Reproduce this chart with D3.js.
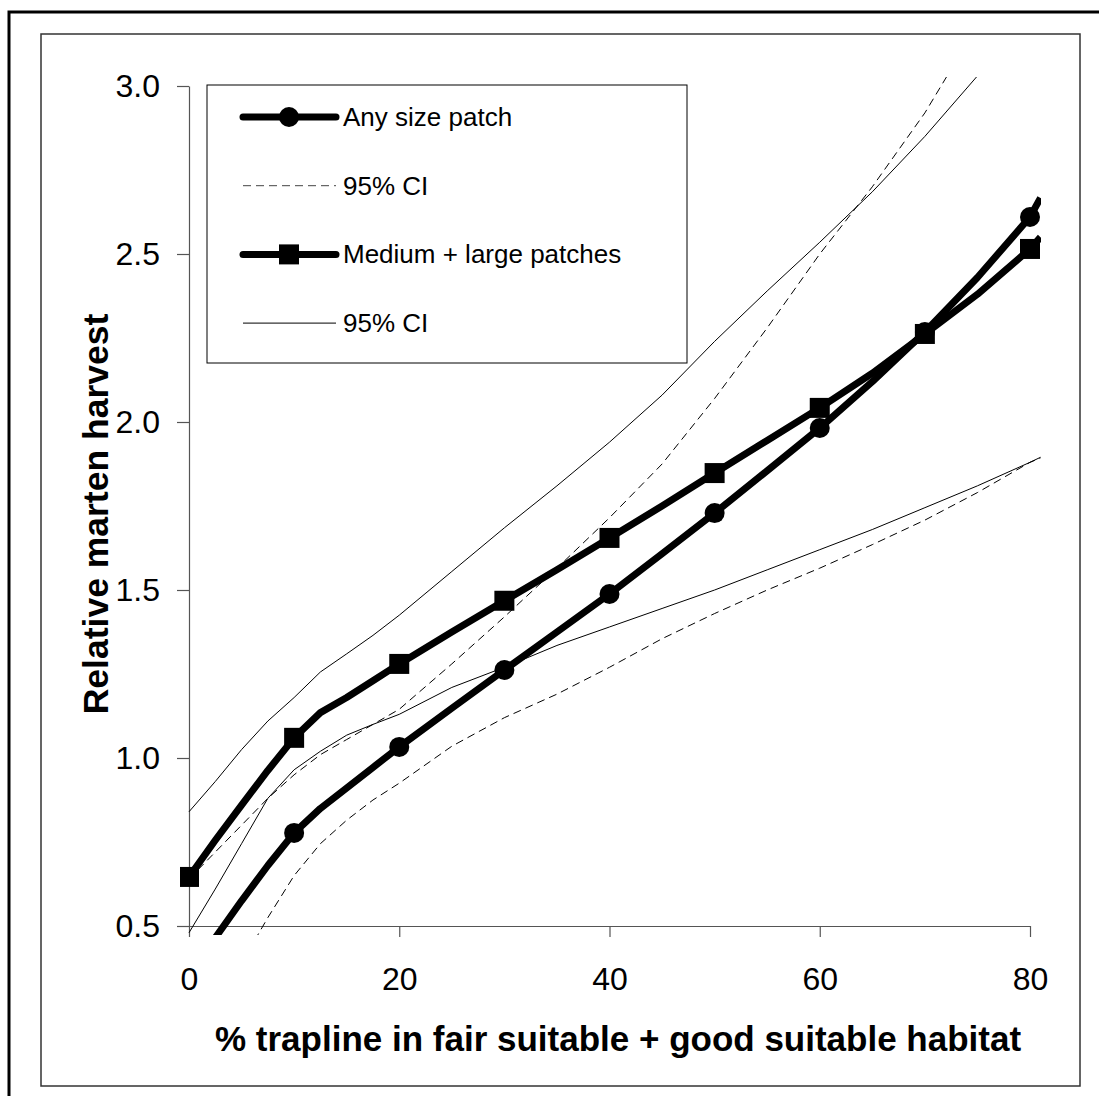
<!DOCTYPE html>
<html>
<head>
<meta charset="utf-8">
<script src="https://cdn.jsdelivr.net/npm/d3@7"></script>
<style>
  body { margin: 0; background: #fff; }
  svg { display: block; font-family: 'Liberation Sans', Arial, sans-serif; }
</style>
</head>
<body>
<div class="chart-container"></div>
<script>
// data: % trapline values shared by every series
const xValues = [0, 2.5, 5, 7.5, 10, 12.5, 15, 17.5, 20, 25, 30, 35, 40, 45, 50, 55, 60, 65, 70, 75, 80, 81];

// any size patch + its 95% CI (dashed)
const anySize  = [0.36, 0.465, 0.575, 0.68, 0.777, 0.85, 0.911, 0.972, 1.033, 1.148, 1.262, 1.375, 1.488, 1.608, 1.729, 1.855, 1.982, 2.12, 2.268, 2.43, 2.61, 2.667];
const anyUpper = [0.64, 0.72, 0.80, 0.88, 0.95, 1.01, 1.055, 1.10, 1.145, 1.28, 1.42, 1.565, 1.715, 1.875, 2.07, 2.28, 2.50, 2.70, 2.92, 3.18, 3.42, 3.47];
const anyLower = [null, null, 0.39, 0.525, 0.65, 0.745, 0.815, 0.875, 0.925, 1.035, 1.12, 1.19, 1.27, 1.355, 1.43, 1.50, 1.565, 1.635, 1.708, 1.79, 1.88, 1.893];

// medium + large patches + its 95% CI (solid)
const medLarge = [0.646, 0.755, 0.86, 0.963, 1.06, 1.135, 1.18, 1.23, 1.28, 1.375, 1.468, 1.56, 1.655, 1.75, 1.848, 1.945, 2.042, 2.145, 2.262, 2.38, 2.515, 2.55];
const mlUpper  = [0.84, 0.93, 1.025, 1.11, 1.18, 1.256, 1.31, 1.365, 1.425, 1.555, 1.685, 1.81, 1.94, 2.08, 2.24, 2.39, 2.535, 2.685, 2.85, 3.03, 3.2, 3.24];
const mlLower  = [0.48, 0.61, 0.745, 0.88, 0.965, 1.02, 1.068, 1.10, 1.13, 1.21, 1.27, 1.335, 1.39, 1.445, 1.50, 1.56, 1.62, 1.68, 1.745, 1.81, 1.88, 1.895];

const xTicks = [0, 20, 40, 60, 80];
const yTicks = [0.5, 1.0, 1.5, 2.0, 2.5, 3.0];
const legendLabels = ['Any size patch', '95% CI', 'Medium + large patches', '95% CI'];

const width = 1099;
const height = 1096;

// scales
const xScale = d3.scaleLinear().domain([0, 80]).range([189, 1030]);
const yScale = d3.scaleLinear().domain([0.5, 3.0]).range([926, 86]);

const toPoints = vals => xValues.map((x, i) => ({ x: x, value: vals[i] }));

const series = [
    { name: 'any-upper', values: toPoints(anyUpper), width: 1, dash: '8,5' },
    { name: 'any-lower', values: toPoints(anyLower), width: 1, dash: '8,5' },
    { name: 'ml-upper', values: toPoints(mlUpper), width: 1, dash: null },
    { name: 'ml-lower', values: toPoints(mlLower), width: 1, dash: null },
    { name: 'any-size', values: toPoints(anySize), width: 7, dash: null, marker: 'circle' },
    { name: 'med-large', values: toPoints(medLarge), width: 7, dash: null, marker: 'square' }
];

const lineGen = d3.line()
    .defined(d => d.value !== null)
    .x(d => xScale(d.x))
    .y(d => yScale(d.value));

const svg = d3.select('.chart-container')
    .append('svg')
    .attr('width', width)
    .attr('height', height);

// chart frames
svg.append('rect')
    .attr('x', 9).attr('y', 12)
    .attr('width', 1200).attr('height', 1200)
    .style('fill', 'none')
    .style('stroke', '#000')
    .style('stroke-width', 3);

svg.append('rect')
    .attr('x', 41).attr('y', 34)
    .attr('width', 1039).attr('height', 1052)
    .style('fill', 'none')
    .style('stroke', '#333')
    .style('stroke-width', 1.5);

// clip area (plot area is a bit bigger than the axis range)
svg.append('clipPath')
    .attr('id', 'plot-clip')
    .append('rect')
    .attr('x', xScale(0) - 9)
    .attr('y', yScale(3.0) - 9)
    .attr('width', xScale(80) - xScale(0) + 20)
    .attr('height', yScale(0.5) - yScale(3.0) + 18);

// axes
const xAxis = d3.axisBottom(xScale)
    .tickValues(xTicks)
    .tickFormat(d3.format('d'))
    .tickSize(11)
    .tickSizeOuter(0);

const xAxisDraw = svg.append('g')
    .attr('class', 'x axis')
    .attr('transform', `translate(0, ${yScale(0.5)})`)
    .call(xAxis);

xAxisDraw.selectAll('text')
    .attr('y', 64)
    .attr('dy', 0)
    .style('font-size', '32px')
    .style('fill', '#000');

const yAxis = d3.axisLeft(yScale)
    .tickValues(yTicks)
    .tickFormat(d3.format('.1f'))
    .tickSize(12)
    .tickPadding(17)
    .tickSizeOuter(0);

const yAxisDraw = svg.append('g')
    .attr('class', 'y axis')
    .attr('transform', `translate(${xScale(0)}, 0)`)
    .call(yAxis);

yAxisDraw.selectAll('text')
    .style('font-size', '32px')
    .style('fill', '#000');

svg.selectAll('.axis path, .axis line')
    .style('stroke', '#555')
    .style('stroke-width', 1.2);
svg.selectAll('.axis text').style('font-family', "'Liberation Sans', Arial, sans-serif");

// axis titles
svg.append('text')
    .attr('x', 215)
    .attr('y', 1051)
    .attr('text-anchor', 'start')
    .style('font-size', '35px')
    .style('font-weight', 'bold')
    .text('% trapline in fair suitable + good suitable habitat');

svg.append('text')
    .attr('transform', `translate(108, 514) rotate(-90)`)
    .attr('text-anchor', 'middle')
    .style('font-size', '35.5px')
    .style('font-weight', 'bold')
    .text('Relative marten harvest');

// lines
const chartGroup = svg.append('g')
    .attr('class', 'line-chart')
    .attr('clip-path', 'url(#plot-clip)');

chartGroup.selectAll('.line-series')
    .data(series)
    .enter()
        .append('path')
        .attr('class', d => `line-series ${d.name}`)
        .attr('d', d => lineGen(d.values))
        .style('fill', 'none')
        .style('stroke', '#000')
        .style('stroke-width', d => d.width)
        .style('stroke-dasharray', d => d.dash)
        .style('stroke-linejoin', 'round')
        .style('stroke-linecap', 'butt');

// markers every 10 %
const markerData = series
    .filter(s => s.marker)
    .flatMap(s => s.values
        .filter(d => d.x % 10 === 0 && d.value !== null)
        .map(d => ({ ...d, marker: s.marker })));

chartGroup.selectAll('.marker')
    .data(markerData)
    .enter()
        .append('path')
        .attr('class', 'marker')
        .attr('transform', d => `translate(${xScale(d.x)}, ${yScale(d.value)})`)
        .attr('d', d => d.marker === 'circle'
            ? d3.symbol(d3.symbolCircle, Math.PI * 10 * 10)()
            : d3.symbol(d3.symbolSquare, 20 * 20)())
        .style('fill', '#000');

// legend
const legend = svg.append('g').attr('class', 'legend');

legend.append('rect')
    .attr('x', 207).attr('y', 85)
    .attr('width', 480).attr('height', 278)
    .style('fill', '#fff')
    .style('stroke', '#000')
    .style('stroke-width', 1);

const legendStyles = [
    { width: 7, dash: null, marker: 'circle' },
    { width: 1, dash: '8,5', marker: null },
    { width: 7, dash: null, marker: 'square' },
    { width: 1, dash: null, marker: null }
];

const legendRows = legend.selectAll('.legend-row')
    .data(legendLabels)
    .enter()
        .append('g')
        .attr('class', 'legend-row')
        .attr('transform', (d, i) => `translate(0, ${117 + i * 68.7})`);

legendRows.append('line')
    .attr('x1', 243).attr('x2', 336)
    .attr('y1', 0).attr('y2', 0)
    .style('stroke', (d, i) => legendStyles[i].dash ? '#444' : '#000')
    .style('stroke-width', (d, i) => legendStyles[i].width)
    .style('stroke-dasharray', (d, i) => legendStyles[i].dash)
    .style('stroke-linecap', (d, i) => legendStyles[i].width > 2 ? 'round' : 'butt');

legendRows.each(function(d, i) {
    const style = legendStyles[i];
    if (!style.marker) return;
    d3.select(this)
        .append('path')
        .attr('transform', 'translate(289, 0)')
        .attr('d', style.marker === 'circle'
            ? d3.symbol(d3.symbolCircle, Math.PI * 10 * 10)()
            : d3.symbol(d3.symbolSquare, 20 * 20)())
        .style('fill', '#000');
});

legendRows.append('text')
    .attr('x', 343)
    .attr('y', 9)
    .style('font-size', '26px')
    .text(d => d);
</script>
</body>
</html>
